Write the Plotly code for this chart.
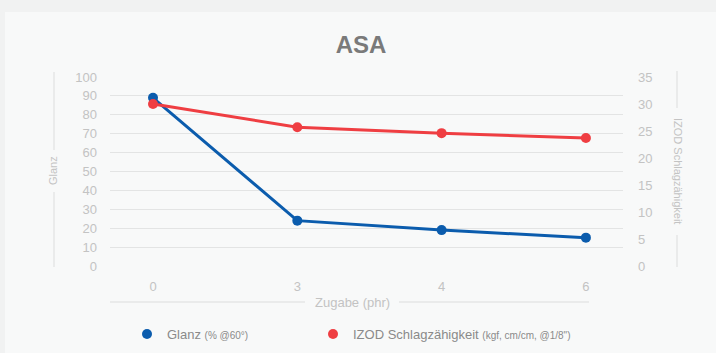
import plotly.graph_objects as go

# Additive level (phr) on the category axis
zugabe = ["0", "3", "4", "6"]
# Gloss (% @60°), left axis
glanz = [89, 24, 19, 15]
# IZOD impact strength (kgf·cm/cm, @1/8"), right axis
izod = [30.0, 25.7, 24.6, 23.7]

left_ticks = list(range(0, 101, 10))
right_ticks = list(range(0, 36, 5))

BLUE = "#0b5cad"
RED = "#ef3e42"
TICK = "#c3c3c3"
GRID = "#e3e4e4"
FONT = "Liberation Sans, Arial, sans-serif"

W, H = 716, 353
L, R, T, B = 110, 93, 77, 87
pw, ph = W - L - R, H - T - B


def px(x):
    return (x - L) / pw


def py(y):
    return (H - B - y) / ph


fig = go.Figure()

fig.add_trace(go.Scatter(
    x=zugabe, y=glanz, mode="lines+markers", yaxis="y",
    line=dict(color=BLUE, width=3), marker=dict(color=BLUE, size=10),
    showlegend=False, hoverinfo="skip"))
fig.add_trace(go.Scatter(
    x=zugabe, y=izod, mode="lines+markers", yaxis="y2",
    line=dict(color=RED, width=3), marker=dict(color=RED, size=10),
    showlegend=False, hoverinfo="skip"))

# Legend entries show a dot only, each in its own legend box
fig.add_trace(go.Scatter(
    x=[None], y=[None], mode="markers", marker=dict(color=BLUE, size=10),
    name="Glanz <span style='font-size:10px'>(% @60°)</span>", legend="legend"))
fig.add_trace(go.Scatter(
    x=[None], y=[None], mode="markers", marker=dict(color=RED, size=10),
    name="IZOD Schlagzähigkeit <span style='font-size:10px'>(kgf, cm/cm, @1/8\")</span>",
    legend="legend2"))

shapes = [
    # card panel
    dict(type="rect", xref="paper", yref="paper", layer="below",
         x0=px(5), x1=px(720), y0=py(360), y1=py(12),
         fillcolor="#f8f9f9", line=dict(width=0)),
]
line_style = dict(color="#dcdddd", width=1)
# decorative rules around the axis titles
for x0, x1, y0, y1 in [
    (54, 54, 72, 150), (54, 54, 192, 267),
    (677, 677, 71, 108), (677, 677, 235, 267),
    (110, 305, 302, 302), (399, 589, 302, 302),
]:
    shapes.append(dict(type="line", xref="paper", yref="paper",
                       x0=px(x0), x1=px(x1), y0=py(y0), y1=py(y1),
                       line=line_style))

title_font = dict(size=11, color=TICK, family=FONT)
annotations = [
    dict(text="Glanz", xref="paper", yref="paper", x=px(53), y=py(171),
         xanchor="center", yanchor="middle", showarrow=False, textangle=-90,
         font=title_font),
    dict(text="IZOD Schlagzähigkeit", xref="paper", yref="paper", x=px(678), y=py(171),
         xanchor="center", yanchor="middle", showarrow=False, textangle=90,
         font=title_font),
    dict(text="Zugabe (phr)", xref="paper", yref="paper", x=px(352), y=py(302),
         xanchor="center", yanchor="middle", showarrow=False,
         font=dict(size=13, color=TICK, family=FONT)),
]

legend_common = dict(orientation="h", yanchor="middle", bgcolor="rgba(0,0,0,0)",
                     font=dict(size=13, color="#8a8a8a", family=FONT),
                     itemclick=False, itemdoubleclick=False)

fig.update_layout(
    width=W, height=H,
    margin=dict(l=L, r=R, t=T, b=B, autoexpand=False),
    paper_bgcolor="#f1f2f2",
    plot_bgcolor="rgba(0,0,0,0)",
    font=dict(family=FONT, color="#777777"),
    title=dict(text="<b>ASA</b>", x=361 / W, xanchor="center", y=1 - 45 / H, yanchor="middle",
               font=dict(size=24, color="#7a7a7a", family=FONT)),
    xaxis=dict(type="category", range=[-0.298, 3.257], showgrid=False, zeroline=False,
               showline=False, ticks="", tickfont=dict(size=13, color=TICK),
               ticklabelstandoff=11),
    yaxis=dict(range=[0, 100], tickvals=left_ticks, showgrid=True, gridcolor=GRID,
               gridwidth=1, zeroline=False, showline=False, ticks="",
               tickfont=dict(size=13, color=TICK), ticklabelstandoff=12),
    yaxis2=dict(range=[0, 35], tickvals=right_ticks, overlaying="y", side="right",
                showgrid=False, zeroline=False, showline=False, ticks="",
                tickfont=dict(size=13, color=TICK), ticklabelstandoff=14),
    legend=dict(x=px(127), xanchor="left", y=py(334), **legend_common),
    legend2=dict(x=px(313), xanchor="left", y=py(334), **legend_common),
    shapes=shapes,
    annotations=annotations,
)

fig.write_html("out.html")
